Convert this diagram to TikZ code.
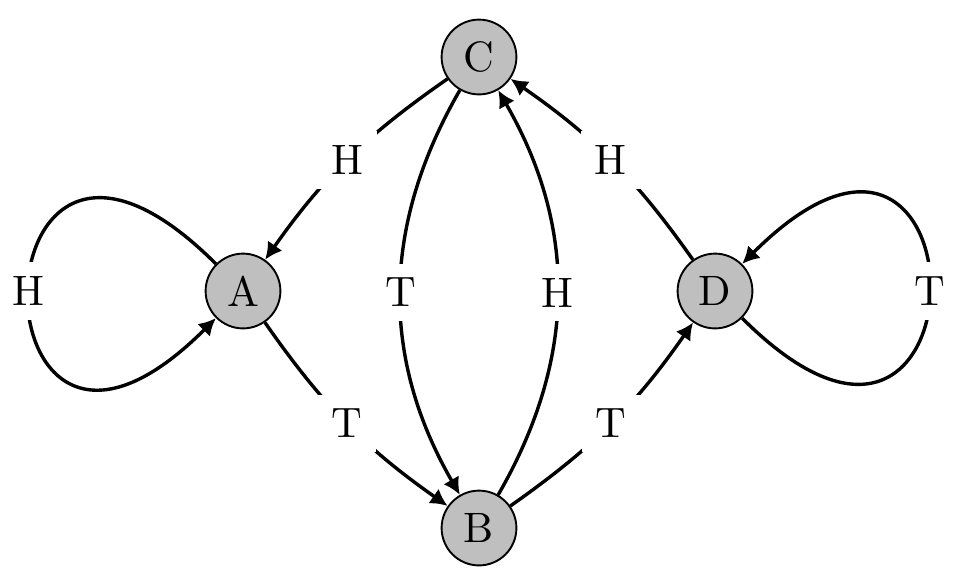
\documentclass[tikz,border=0pt]{standalone}
\usetikzlibrary{arrows.meta}
\begin{document}
\begin{tikzpicture}[x=0.2353pt,y=0.2353pt,
  state/.style={circle,draw=black,line width=0.45pt,fill=gray!50,minimum size=17.6pt,inner sep=0pt},
  edge/.style={line width=0.8pt,-{Latex[length=4pt,width=4.2pt]}},
  lab/.style={fill=white,midway}]
\useasboundingbox (0,0) rectangle (954,582);
\node[state] (A) at (243,291) {A};
\node[state] (B) at (479,54) {B};
\node[state] (C) at (479,525) {C};
\node[state] (D) at (715,291) {D};
\draw[edge] (C) to[bend right=10] node[lab]{H} (A);
\draw[edge] (A) to[bend right=10] node[lab]{T} (B);
\draw[edge] (C) to[bend right=30] node[lab]{T} (B);
\draw[edge] (B) to[bend right=30] node[lab]{H} (C);
\draw[edge] (D) to[bend right=10] node[lab]{H} (C);
\draw[edge] (B) to[bend right=10] node[lab]{T} (D);
\draw[edge] (A.135) .. controls +(135:353) and +(225:353) .. node[lab]{H} (A.225);
\draw[edge] (D.-45) .. controls +(-45:353) and +(45:353) .. node[lab]{T} (D.45);
\end{tikzpicture}
\end{document}
